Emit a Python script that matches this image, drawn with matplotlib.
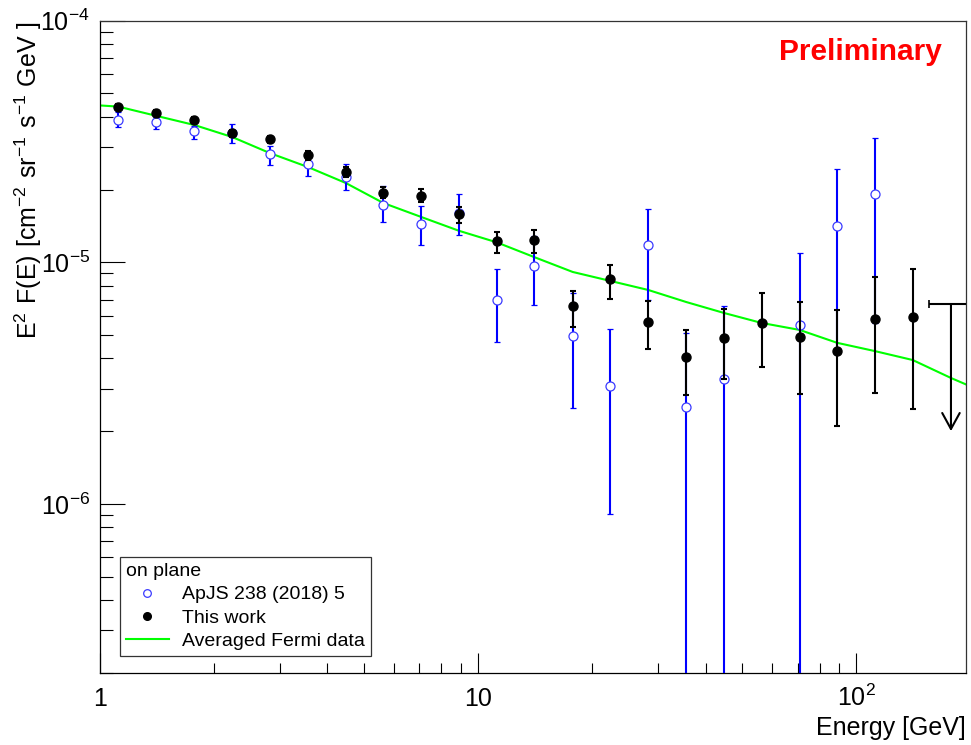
import matplotlib
matplotlib.use('Agg')
import matplotlib.pyplot as plt
from matplotlib.lines import Line2D
from matplotlib.ticker import LogLocator, FixedLocator, FuncFormatter, NullFormatter
import numpy as np

plt.rcParams['font.family'] = ['Liberation Sans', 'DejaVu Sans']
plt.rcParams['mathtext.fontset'] = 'custom'
plt.rcParams['mathtext.rm'] = 'Liberation Sans'

# ---- data ----
# "This work" (filled black)
work_e = [1.12, 1.41, 1.78, 2.24, 2.82, 3.55, 4.47, 5.62, 7.08, 8.91, 11.2,
          14.1, 17.8, 22.4, 28.2, 35.5, 44.7, 56.2, 70.8, 89.1, 112, 141]
work_f = [4.40e-5, 4.15e-5, 3.88e-5, 3.42e-5, 3.23e-5, 2.77e-5, 2.37e-5, 1.94e-5,
          1.89e-5, 1.59e-5, 1.22e-5, 1.24e-5, 6.61e-6, 8.51e-6, 5.66e-6, 4.07e-6,
          4.86e-6, 5.63e-6, 4.89e-6, 4.28e-6, 5.85e-6, 5.96e-6]
work_lo = [4.28e-5, 4.04e-5, 3.76e-5, 3.30e-5, 3.13e-5, 2.66e-5, 2.25e-5, 1.84e-5,
           1.77e-5, 1.45e-5, 1.09e-5, 1.09e-5, 5.42e-6, 7.02e-6, 4.36e-6, 2.81e-6,
           3.30e-6, 3.70e-6, 2.86e-6, 2.11e-6, 2.89e-6, 2.48e-6]
work_hi = [4.52e-5, 4.26e-5, 4.00e-5, 3.54e-5, 3.33e-5, 2.88e-5, 2.49e-5, 2.04e-5,
           2.02e-5, 1.69e-5, 1.33e-5, 1.36e-5, 7.59e-6, 9.73e-6, 6.89e-6, 5.22e-6,
           6.38e-6, 7.43e-6, 6.82e-6, 6.32e-6, 8.67e-6, 9.35e-6]

# upper limit (last bin)
ul_e = [178]
ul_f = [6.7e-6]
ul_elo = [156]
ul_ehi = [200]

# ApJS 238 (2018) 5 (open blue)
apjs_e = [1.12, 1.41, 1.78, 2.24, 2.82, 3.55, 4.47, 5.62, 7.08, 8.91, 11.2,
          14.1, 17.8, 22.4, 28.2, 35.5, 44.7, 70.8, 89.1, 112]
apjs_f = [3.88e-5, 3.81e-5, 3.50e-5, 3.43e-5, 2.81e-5, 2.55e-5, 2.25e-5, 1.73e-5,
          1.44e-5, 1.60e-5, 6.98e-6, 9.66e-6, 4.95e-6, 3.08e-6, 1.18e-5, 2.52e-6,
          3.29e-6, 5.50e-6, 1.41e-5, 1.92e-5]
apjs_lo = [3.62e-5, 3.57e-5, 3.24e-5, 3.13e-5, 2.52e-5, 2.28e-5, 1.99e-5, 1.47e-5,
           1.18e-5, 1.30e-5, 4.68e-6, 6.64e-6, 2.49e-6, 9.08e-7, 6.98e-6, 1e-9,
           1e-9, 1e-9, 4.34e-6, 5.61e-6]
apjs_hi = [4.18e-5, 3.98e-5, 3.66e-5, 3.73e-5, 3.03e-5, 2.73e-5, 2.55e-5, 2.06e-5,
           1.71e-5, 1.92e-5, 9.37e-6, 1.29e-5, 7.46e-6, 5.30e-6, 1.66e-5, 5.09e-6,
           6.59e-6, 1.09e-5, 2.43e-5, 3.27e-5]

# Averaged Fermi data (green line)
fermi_e = [1.0, 1.12, 1.41, 1.78, 2.24, 2.82, 3.55, 4.47, 5.62, 7.08, 8.91, 11.2,
           14.1, 17.8, 22.4, 28.2, 35.5, 44.7, 56.2, 70.8, 89.1, 112, 141, 178, 200]
fermi_f = [4.46e-5, 4.41e-5, 4.04e-5, 3.70e-5, 3.30e-5, 2.83e-5, 2.48e-5, 2.13e-5,
           1.76e-5, 1.54e-5, 1.35e-5, 1.21e-5, 1.05e-5, 9.12e-6, 8.37e-6, 7.68e-6,
           6.85e-6, 6.17e-6, 5.61e-6, 5.25e-6, 4.64e-6, 4.29e-6, 3.94e-6, 3.32e-6,
           3.07e-6]

x_ticks = [1, 10, 100]
x_tick_labels = ['1', '10', r'$\mathregular{10^{2}}$']

# ---- plot ----
fig = plt.figure(figsize=(9.71, 7.45), dpi=100)
ax = fig.add_axes([0.1027, 0.0970, 0.8921, 0.8752])
ax.set_xscale('log')
ax.set_yscale('log')

ax.plot(fermi_e, fermi_f, color='#00ff00', lw=1.5, zorder=2)

f = np.array(apjs_f)
ax.errorbar(apjs_e, f, yerr=[f - np.array(apjs_lo), np.array(apjs_hi) - f],
            fmt='o', ms=6.5, mfc='white', mec='#3a3aff', mew=0.9,
            ecolor='#0000ff', elinewidth=1.5, capsize=2.5, capthick=1.5, zorder=3)

f = np.array(work_f)
ax.errorbar(work_e, f, yerr=[f - np.array(work_lo), np.array(work_hi) - f],
            fmt='o', ms=6.5, color='black', elinewidth=1.5, capsize=2.5,
            capthick=1.5, zorder=4)

# upper limit
ax.errorbar(ul_e, ul_f, xerr=[[ul_e[0] - ul_elo[0]], [ul_ehi[0] - ul_e[0]]],
            fmt='none', ecolor='black', elinewidth=1.5, capsize=3, capthick=1.2, zorder=4)
ax.annotate('', xy=(ul_e[0], ul_f[0] / 10 ** 0.525), xytext=(ul_e[0], ul_f[0]),
            arrowprops=dict(arrowstyle='->,head_length=11.5,head_width=6.3',
                            mutation_scale=1, lw=1.5, color='black',
                            shrinkA=0, shrinkB=0), zorder=4)

ax.set_xlim(1, 195)
ax.set_ylim(2e-7, 1e-4)

ax.xaxis.set_major_locator(FixedLocator(x_ticks))
ax.xaxis.set_major_formatter(FuncFormatter(lambda v, p: x_tick_labels[x_ticks.index(int(round(v)))]))
ax.xaxis.set_minor_locator(LogLocator(base=10, subs=np.arange(2, 10)))
ax.xaxis.set_minor_formatter(NullFormatter())
ax.yaxis.set_major_locator(LogLocator(base=10, numticks=10))
ax.yaxis.set_major_formatter(FuncFormatter(lambda v, p: r'$\mathregular{10^{%d}}$' % round(np.log10(v))))
ax.yaxis.set_minor_locator(LogLocator(base=10, subs=np.arange(2, 10), numticks=20))
ax.yaxis.set_minor_formatter(NullFormatter())

ax.tick_params(axis='both', which='both', direction='in', top=False, right=False,
               width=0.8, color='black', labelsize=18)
ax.tick_params(axis='x', which='major', length=14.4, pad=24)
ax.tick_params(axis='x', which='minor', length=7.2)
ax.tick_params(axis='y', which='major', length=18, pad=7)
ax.tick_params(axis='y', which='minor', length=9.4)
for t in ax.xaxis.get_major_ticks():
    t.label1.set_verticalalignment('baseline')

for s in ax.spines.values():
    s.set_linewidth(0.9)
    s.set_color('#333333')
ax.spines['left'].set_color('black')
ax.spines['bottom'].set_color('black')

ax.set_xlabel('Energy [GeV]', fontsize=18, loc='right')
ax.xaxis.set_label_coords(1.0, -0.066)
ax.set_ylabel(r'$\mathregular{E^{2}\ F(E)\ [cm^{-2}\ sr^{-1}\ s^{-1}\ GeV\ ]}$',
              fontsize=18, loc='top')
ax.yaxis.set_label_coords(-0.064, 1.0)

fig.text(860 / 971, 1 - 52 / 745, 'Preliminary', color='red', fontsize=21.5,
         fontweight='bold', ha='center', va='center')

handles = [
    Line2D([], [], ls='none', marker='o', ms=5.5, mfc='white', mec='#3a3aff', mew=0.9),
    Line2D([], [], ls='none', marker='o', ms=5.5, color='black'),
    Line2D([], [], color='#00ff00', lw=1.5),
]
leg = ax.legend(handles, ['ApJS 238 (2018) 5', 'This work', 'Averaged Fermi data'],
                title='on plane', title_fontsize=14, fontsize=14,
                loc='lower left', bbox_to_anchor=(0.0235, 0.0256), borderaxespad=0,
                frameon=True, fancybox=False, edgecolor='#333333', framealpha=1,
                borderpad=0.3, handlelength=2.2, handletextpad=0.7, labelspacing=0.3,
                alignment='left')
leg.get_frame().set_linewidth(0.9)

fig.savefig('out.png', dpi=100)
